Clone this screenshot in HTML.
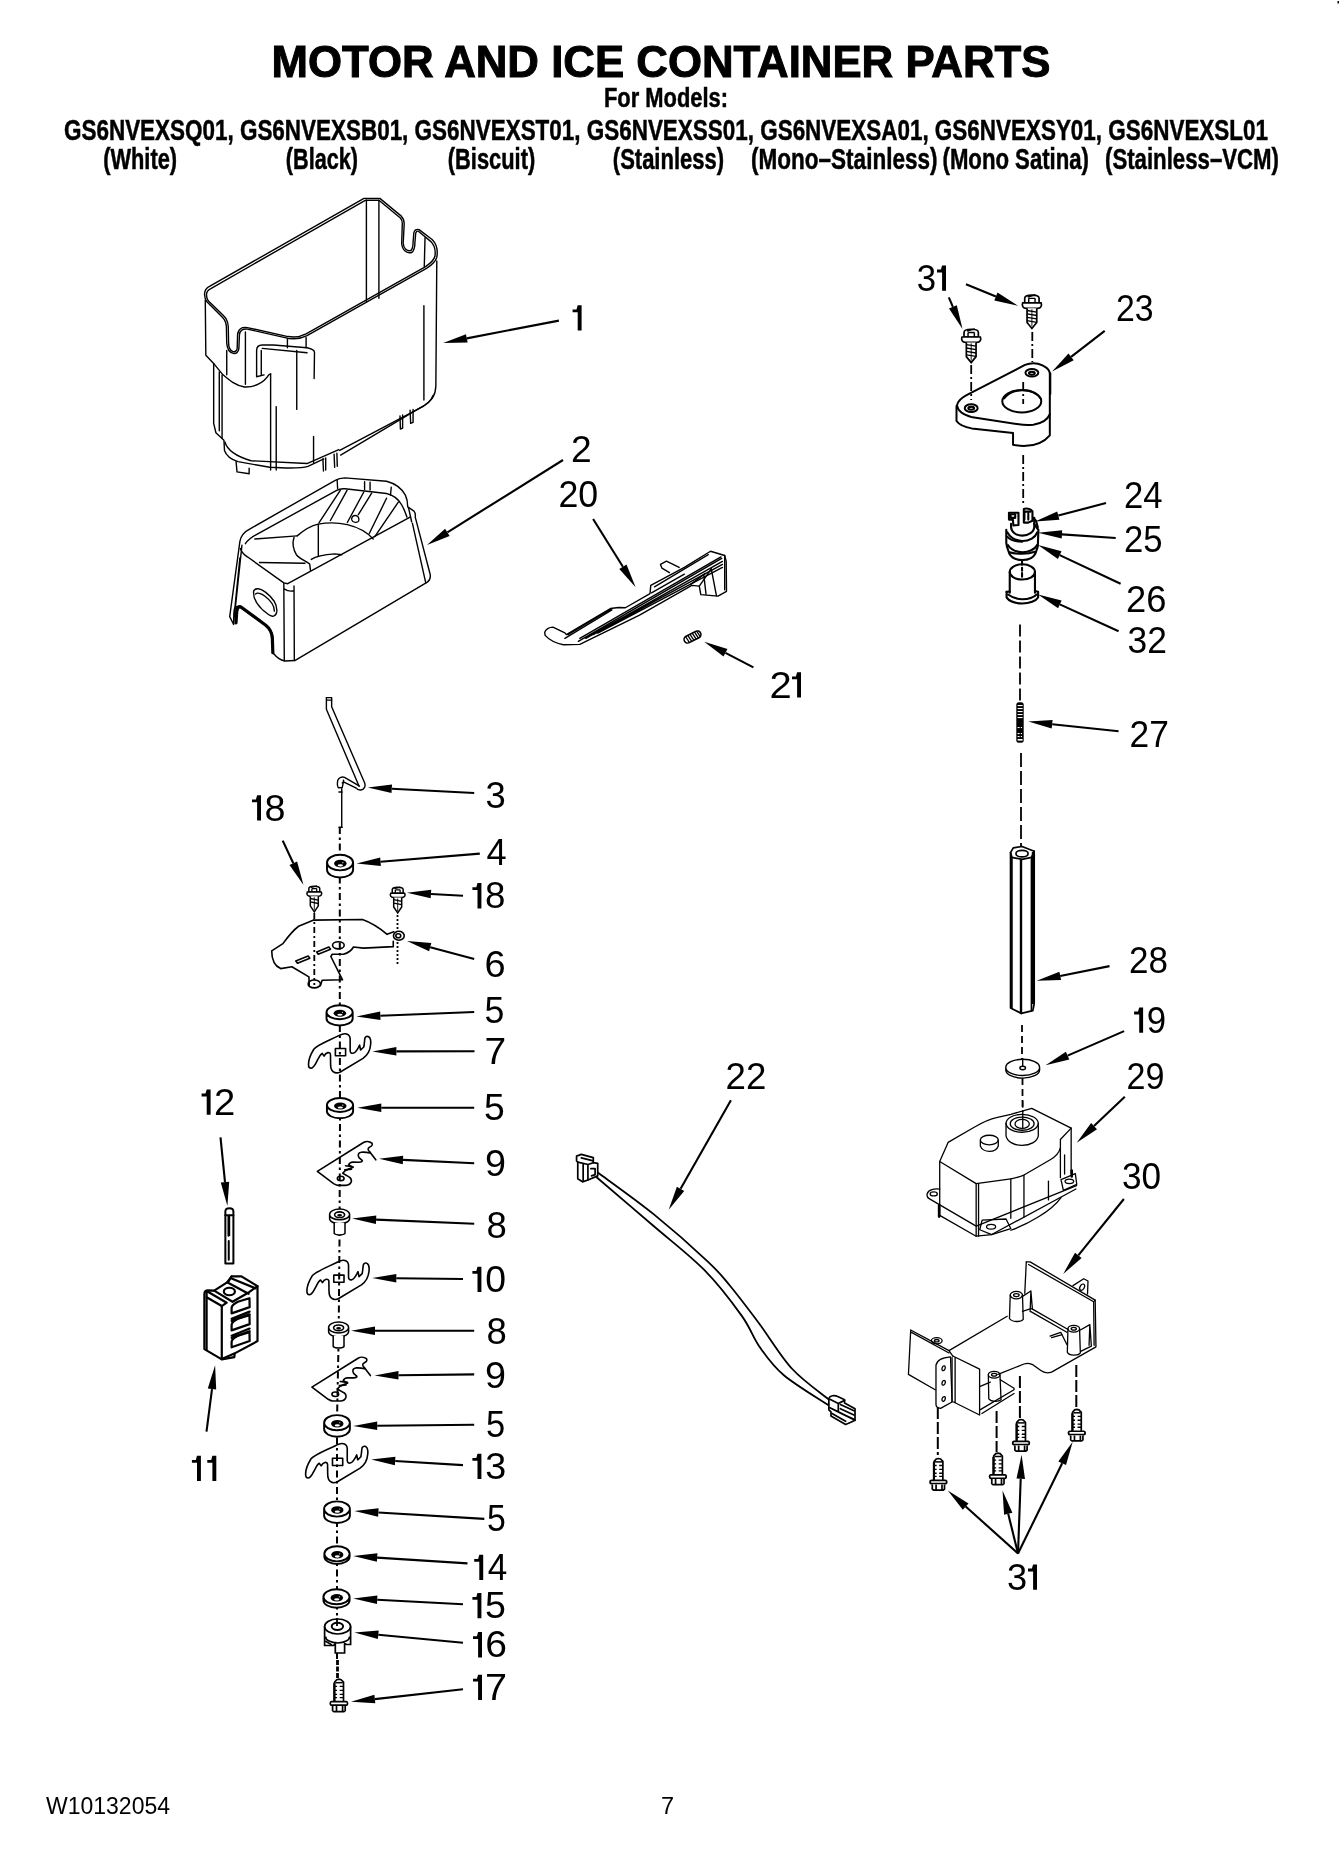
<!DOCTYPE html>
<html><head><meta charset="utf-8"><style>
html,body{margin:0;padding:0;background:#fff;}
body{width:1339px;height:1849px;overflow:hidden;}
svg{display:block;will-change:transform;}
text{font-family:"Liberation Sans",sans-serif;fill:#000;}
</style></head><body>
<svg width="1339" height="1849" viewBox="0 0 1339 1849">
<text x="271.5" y="77.0" font-size="44.5" font-weight="bold" text-anchor="start" textLength="779" lengthAdjust="spacingAndGlyphs" stroke="#000" stroke-width="1.0">MOTOR AND ICE CONTAINER PARTS</text>
<text x="604" y="107" font-size="27" font-weight="bold" text-anchor="start" textLength="124" lengthAdjust="spacingAndGlyphs" stroke="#000" stroke-width="0.5">For Models:</text>
<text x="64" y="139.5" font-size="29" font-weight="bold" text-anchor="start" textLength="1204" lengthAdjust="spacingAndGlyphs" stroke="#000" stroke-width="0.5">GS6NVEXSQ01, GS6NVEXSB01, GS6NVEXST01, GS6NVEXSS01, GS6NVEXSA01, GS6NVEXSY01, GS6NVEXSL01</text>
<text x="103.2" y="168.6" font-size="29" font-weight="bold" text-anchor="start" textLength="73.9" lengthAdjust="spacingAndGlyphs" stroke="#000" stroke-width="0.5">(White)</text>
<text x="285.8" y="168.6" font-size="29" font-weight="bold" text-anchor="start" textLength="72.3" lengthAdjust="spacingAndGlyphs" stroke="#000" stroke-width="0.5">(Black)</text>
<text x="447.8" y="168.6" font-size="29" font-weight="bold" text-anchor="start" textLength="87.4" lengthAdjust="spacingAndGlyphs" stroke="#000" stroke-width="0.5">(Biscuit)</text>
<text x="612.8" y="168.6" font-size="29" font-weight="bold" text-anchor="start" textLength="111.3" lengthAdjust="spacingAndGlyphs" stroke="#000" stroke-width="0.5">(Stainless)</text>
<text x="751" y="168.6" font-size="29" font-weight="bold" text-anchor="start" textLength="186.5" lengthAdjust="spacingAndGlyphs" stroke="#000" stroke-width="0.5">(Mono&#8211;Stainless)</text>
<text x="942.5" y="168.6" font-size="29" font-weight="bold" text-anchor="start" textLength="146.5" lengthAdjust="spacingAndGlyphs" stroke="#000" stroke-width="0.5">(Mono Satina)</text>
<text x="1105" y="168.6" font-size="29" font-weight="bold" text-anchor="start" textLength="174" lengthAdjust="spacingAndGlyphs" stroke="#000" stroke-width="0.5">(Stainless&#8211;VCM)</text>
<text x="46" y="1814.4" font-size="23.5" font-weight="normal" text-anchor="start" textLength="124" lengthAdjust="spacingAndGlyphs">W10132054</text>
<text x="661" y="1814.4" font-size="23.5" font-weight="normal" text-anchor="start">7</text>
<path d="M577.70,305.30 L581.60,305.30 L581.60,330.60 L577.70,330.60 L577.70,312.20 L572.60,312.20 L572.60,309.40 L576.50,309.40 Z" fill="#000"/>
<text x="571.0" y="461.5" font-size="36.5" font-weight="normal" text-anchor="start" textLength="20.69" lengthAdjust="spacingAndGlyphs">2</text>
<text x="558.5" y="507.0" font-size="36.5" font-weight="normal" text-anchor="start" textLength="39.75" lengthAdjust="spacingAndGlyphs">20</text>
<text x="769.43" y="697.6" font-size="36.5" font-weight="normal" text-anchor="start" textLength="22.24" lengthAdjust="spacingAndGlyphs">2</text>
<path d="M797.10,672.30 L801.00,672.30 L801.00,697.60 L797.10,697.60 L797.10,679.20 L792.00,679.20 L792.00,676.40 L795.90,676.40 Z" fill="#000"/>
<text x="485.5" y="807.5" font-size="36.5" font-weight="normal" text-anchor="start" textLength="20.28" lengthAdjust="spacingAndGlyphs">3</text>
<path d="M257.10,795.30 L261.00,795.30 L261.00,820.60 L257.10,820.60 L257.10,802.20 L252.00,802.20 L252.00,799.40 L255.90,799.40 Z" fill="#000"/>
<text x="264.54" y="820.6" font-size="36.5" font-weight="normal" text-anchor="start" textLength="21.01" lengthAdjust="spacingAndGlyphs">8</text>
<text x="486.5" y="865.0" font-size="36.5" font-weight="normal" text-anchor="start" textLength="20.14" lengthAdjust="spacingAndGlyphs">4</text>
<path d="M477.50,883.10 L481.40,883.10 L481.40,908.40 L477.50,908.40 L477.50,890.00 L472.40,890.00 L472.40,887.20 L476.30,887.20 Z" fill="#000"/>
<text x="484.99" y="908.4" font-size="36.5" font-weight="normal" text-anchor="start" textLength="20.42" lengthAdjust="spacingAndGlyphs">8</text>
<text x="484.5" y="976.5" font-size="36.5" font-weight="normal" text-anchor="start" textLength="21.1" lengthAdjust="spacingAndGlyphs">6</text>
<text x="484.5" y="1023.0" font-size="36.5" font-weight="normal" text-anchor="start" textLength="19.86" lengthAdjust="spacingAndGlyphs">5</text>
<text x="484.5" y="1063.5" font-size="36.5" font-weight="normal" text-anchor="start" textLength="21.69" lengthAdjust="spacingAndGlyphs">7</text>
<text x="484.0" y="1120.0" font-size="36.5" font-weight="normal" text-anchor="start" textLength="20.74" lengthAdjust="spacingAndGlyphs">5</text>
<text x="485.0" y="1176.0" font-size="36.5" font-weight="normal" text-anchor="start" textLength="20.97" lengthAdjust="spacingAndGlyphs">9</text>
<text x="486.5" y="1237.5" font-size="36.5" font-weight="normal" text-anchor="start" textLength="20.32" lengthAdjust="spacingAndGlyphs">8</text>
<path d="M477.50,1266.80 L481.40,1266.80 L481.40,1292.10 L477.50,1292.10 L477.50,1273.70 L472.40,1273.70 L472.40,1270.90 L476.30,1270.90 Z" fill="#000"/>
<text x="485.17" y="1292.1" font-size="36.5" font-weight="normal" text-anchor="start" textLength="20.76" lengthAdjust="spacingAndGlyphs">0</text>
<text x="486.5" y="1344.0" font-size="36.5" font-weight="normal" text-anchor="start" textLength="20.32" lengthAdjust="spacingAndGlyphs">8</text>
<text x="485.0" y="1388.0" font-size="36.5" font-weight="normal" text-anchor="start" textLength="20.97" lengthAdjust="spacingAndGlyphs">9</text>
<text x="486.0" y="1437.0" font-size="36.5" font-weight="normal" text-anchor="start" textLength="19.19" lengthAdjust="spacingAndGlyphs">5</text>
<path d="M477.50,1453.80 L481.40,1453.80 L481.40,1479.10 L477.50,1479.10 L477.50,1460.70 L472.40,1460.70 L472.40,1457.90 L476.30,1457.90 Z" fill="#000"/>
<text x="485.15" y="1479.1" font-size="36.5" font-weight="normal" text-anchor="start" textLength="21.0" lengthAdjust="spacingAndGlyphs">3</text>
<text x="487.0" y="1531.0" font-size="36.5" font-weight="normal" text-anchor="start" textLength="18.83" lengthAdjust="spacingAndGlyphs">5</text>
<path d="M479.30,1554.80 L483.20,1554.80 L483.20,1580.10 L479.30,1580.10 L479.30,1561.70 L474.20,1561.70 L474.20,1558.90 L478.10,1558.90 Z" fill="#000"/>
<text x="487.63" y="1580.1" font-size="36.5" font-weight="normal" text-anchor="start" textLength="19.53" lengthAdjust="spacingAndGlyphs">4</text>
<path d="M477.50,1592.90 L481.40,1592.90 L481.40,1618.20 L477.50,1618.20 L477.50,1599.80 L472.40,1599.80 L472.40,1597.00 L476.30,1597.00 Z" fill="#000"/>
<text x="485.06" y="1618.2" font-size="36.5" font-weight="normal" text-anchor="start" textLength="20.89" lengthAdjust="spacingAndGlyphs">5</text>
<path d="M478.10,1632.10 L482.00,1632.10 L482.00,1657.40 L478.10,1657.40 L478.10,1639.00 L473.00,1639.00 L473.00,1636.20 L476.90,1636.20 Z" fill="#000"/>
<text x="485.16" y="1657.4" font-size="36.5" font-weight="normal" text-anchor="start" textLength="21.75" lengthAdjust="spacingAndGlyphs">6</text>
<path d="M478.10,1674.70 L482.00,1674.70 L482.00,1700.00 L478.10,1700.00 L478.10,1681.60 L473.00,1681.60 L473.00,1678.80 L476.90,1678.80 Z" fill="#000"/>
<text x="485.14" y="1700.0" font-size="36.5" font-weight="normal" text-anchor="start" textLength="22.01" lengthAdjust="spacingAndGlyphs">7</text>
<path d="M206.70,1089.50 L210.60,1089.50 L210.60,1114.80 L206.70,1114.80 L206.70,1096.40 L201.60,1096.40 L201.60,1093.60 L205.50,1093.60 Z" fill="#000"/>
<text x="213.91" y="1114.8" font-size="36.5" font-weight="normal" text-anchor="start" textLength="21.27" lengthAdjust="spacingAndGlyphs">2</text>
<path d="M197.00,1455.80 L200.90,1455.80 L200.90,1481.10 L197.00,1481.10 L197.00,1462.70 L191.90,1462.70 L191.90,1459.90 L195.80,1459.90 Z" fill="#000"/>
<path d="M212.40,1455.80 L216.30,1455.80 L216.30,1481.10 L212.40,1481.10 L212.40,1462.70 L207.30,1462.70 L207.30,1459.90 L211.20,1459.90 Z" fill="#000"/>
<text x="725.5" y="1089.0" font-size="36.5" font-weight="normal" text-anchor="start" textLength="40.79" lengthAdjust="spacingAndGlyphs">22</text>
<text x="916.86" y="290.8" font-size="36.5" font-weight="normal" text-anchor="start" textLength="19.36" lengthAdjust="spacingAndGlyphs">3</text>
<path d="M942.10,265.50 L946.00,265.50 L946.00,290.80 L942.10,290.80 L942.10,272.40 L937.00,272.40 L937.00,269.60 L940.90,269.60 Z" fill="#000"/>
<text x="1116.0" y="320.5" font-size="36.5" font-weight="normal" text-anchor="start" textLength="37.61" lengthAdjust="spacingAndGlyphs">23</text>
<text x="1124.0" y="508.0" font-size="36.5" font-weight="normal" text-anchor="start" textLength="38.56" lengthAdjust="spacingAndGlyphs">24</text>
<text x="1124.0" y="551.5" font-size="36.5" font-weight="normal" text-anchor="start" textLength="38.56" lengthAdjust="spacingAndGlyphs">25</text>
<text x="1126.0" y="611.5" font-size="36.5" font-weight="normal" text-anchor="start" textLength="40.4" lengthAdjust="spacingAndGlyphs">26</text>
<text x="1127.5" y="653.0" font-size="36.5" font-weight="normal" text-anchor="start" textLength="39.37" lengthAdjust="spacingAndGlyphs">32</text>
<text x="1129.5" y="747.0" font-size="36.5" font-weight="normal" text-anchor="start" textLength="39.33" lengthAdjust="spacingAndGlyphs">27</text>
<text x="1129.0" y="972.5" font-size="36.5" font-weight="normal" text-anchor="start" textLength="39.0" lengthAdjust="spacingAndGlyphs">28</text>
<path d="M1139.20,1007.50 L1143.10,1007.50 L1143.10,1032.80 L1139.20,1032.80 L1139.20,1014.40 L1134.10,1014.40 L1134.10,1011.60 L1138.00,1011.60 Z" fill="#000"/>
<text x="1146.68" y="1032.8" font-size="36.5" font-weight="normal" text-anchor="start" textLength="19.34" lengthAdjust="spacingAndGlyphs">9</text>
<text x="1126.5" y="1089.0" font-size="36.5" font-weight="normal" text-anchor="start" textLength="37.9" lengthAdjust="spacingAndGlyphs">29</text>
<text x="1122.0" y="1188.5" font-size="36.5" font-weight="normal" text-anchor="start" textLength="39.1" lengthAdjust="spacingAndGlyphs">30</text>
<text x="1007.11" y="1589.8" font-size="36.5" font-weight="normal" text-anchor="start" textLength="20.18" lengthAdjust="spacingAndGlyphs">3</text>
<path d="M1033.10,1564.50 L1037.00,1564.50 L1037.00,1589.80 L1033.10,1589.80 L1033.10,1571.40 L1028.00,1571.40 L1028.00,1568.60 L1031.90,1568.60 Z" fill="#000"/>
<line x1="558.9" y1="320.6" x2="466.8" y2="338.4" stroke="#000" stroke-width="2.1"/>
<path d="M443.2,343.0 L466.0,334.3 L467.6,342.6Z" fill="#000"/>
<line x1="563.0" y1="460.0" x2="447.4" y2="532.3" stroke="#000" stroke-width="2.1"/>
<path d="M427.0,545.0 L445.1,528.7 L449.6,535.9Z" fill="#000"/>
<line x1="593.1" y1="519.0" x2="622.9" y2="566.8" stroke="#000" stroke-width="2.1"/>
<path d="M635.6,587.2 L619.3,569.1 L626.5,564.6Z" fill="#000"/>
<line x1="753.4" y1="667.4" x2="725.5" y2="652.9" stroke="#000" stroke-width="2.1"/>
<path d="M704.2,641.8 L727.5,649.1 L723.5,656.6Z" fill="#000"/>
<line x1="474.2" y1="793.0" x2="391.8" y2="788.7" stroke="#000" stroke-width="2.1"/>
<path d="M367.8,787.5 L392.0,784.5 L391.5,793.0Z" fill="#000"/>
<line x1="282.7" y1="840.6" x2="293.3" y2="863.2" stroke="#000" stroke-width="2.1"/>
<path d="M303.5,884.9 L289.5,865.0 L297.1,861.4Z" fill="#000"/>
<line x1="479.8" y1="853.6" x2="380.5" y2="861.7" stroke="#000" stroke-width="2.1"/>
<path d="M356.6,863.6 L380.2,857.4 L380.9,865.9Z" fill="#000"/>
<line x1="463.0" y1="895.7" x2="431.0" y2="894.0" stroke="#000" stroke-width="2.1"/>
<path d="M407.0,892.8 L431.2,889.8 L430.7,898.3Z" fill="#000"/>
<line x1="474.2" y1="958.9" x2="430.2" y2="947.2" stroke="#000" stroke-width="2.1"/>
<path d="M407.0,941.0 L431.3,943.1 L429.1,951.3Z" fill="#000"/>
<line x1="474.2" y1="1012.0" x2="380.4" y2="1015.7" stroke="#000" stroke-width="2.1"/>
<path d="M356.4,1016.6 L380.2,1011.4 L380.5,1019.9Z" fill="#000"/>
<line x1="474.5" y1="1051.3" x2="396.4" y2="1051.4" stroke="#000" stroke-width="2.1"/>
<path d="M372.4,1051.4 L396.4,1047.1 L396.4,1055.6Z" fill="#000"/>
<line x1="474.2" y1="1107.7" x2="381.3" y2="1107.7" stroke="#000" stroke-width="2.1"/>
<path d="M357.3,1107.7 L381.3,1103.5 L381.3,1112.0Z" fill="#000"/>
<line x1="474.2" y1="1163.3" x2="403.0" y2="1159.9" stroke="#000" stroke-width="2.1"/>
<path d="M379.0,1158.8 L403.2,1155.7 L402.8,1164.2Z" fill="#000"/>
<line x1="474.2" y1="1223.8" x2="376.1" y2="1219.6" stroke="#000" stroke-width="2.1"/>
<path d="M352.1,1218.6 L376.3,1215.4 L375.9,1223.9Z" fill="#000"/>
<line x1="463.0" y1="1279.0" x2="396.3" y2="1278.3" stroke="#000" stroke-width="2.1"/>
<path d="M372.3,1278.0 L396.3,1274.0 L396.3,1282.5Z" fill="#000"/>
<line x1="474.2" y1="1330.7" x2="375.0" y2="1330.7" stroke="#000" stroke-width="2.1"/>
<path d="M351.0,1330.7 L375.0,1326.5 L375.0,1335.0Z" fill="#000"/>
<line x1="474.2" y1="1374.4" x2="398.5" y2="1375.2" stroke="#000" stroke-width="2.1"/>
<path d="M374.5,1375.5 L398.5,1371.0 L398.5,1379.5Z" fill="#000"/>
<line x1="474.2" y1="1424.8" x2="377.2" y2="1425.7" stroke="#000" stroke-width="2.1"/>
<path d="M353.2,1425.9 L377.2,1421.4 L377.2,1429.9Z" fill="#000"/>
<line x1="463.0" y1="1465.1" x2="395.2" y2="1461.0" stroke="#000" stroke-width="2.1"/>
<path d="M371.2,1459.5 L395.4,1456.7 L394.9,1465.2Z" fill="#000"/>
<line x1="484.3" y1="1518.9" x2="378.4" y2="1512.5" stroke="#000" stroke-width="2.1"/>
<path d="M354.4,1511.0 L378.6,1508.2 L378.1,1516.7Z" fill="#000"/>
<line x1="467.5" y1="1563.4" x2="377.1" y2="1557.6" stroke="#000" stroke-width="2.1"/>
<path d="M353.2,1556.0 L377.4,1553.3 L376.9,1561.8Z" fill="#000"/>
<line x1="463.0" y1="1604.2" x2="377.2" y2="1599.8" stroke="#000" stroke-width="2.1"/>
<path d="M353.2,1598.6 L377.4,1595.6 L377.0,1604.1Z" fill="#000"/>
<line x1="463.0" y1="1642.7" x2="378.3" y2="1634.8" stroke="#000" stroke-width="2.1"/>
<path d="M354.4,1632.6 L378.7,1630.6 L377.9,1639.1Z" fill="#000"/>
<line x1="463.0" y1="1689.3" x2="374.9" y2="1699.1" stroke="#000" stroke-width="2.1"/>
<path d="M351.0,1701.7 L374.4,1694.8 L375.3,1703.3Z" fill="#000"/>
<line x1="220.5" y1="1137.4" x2="225.0" y2="1182.1" stroke="#000" stroke-width="2.1"/>
<path d="M227.4,1206.0 L220.8,1182.5 L229.2,1181.7Z" fill="#000"/>
<line x1="206.5" y1="1431.6" x2="212.0" y2="1389.1" stroke="#000" stroke-width="2.1"/>
<path d="M215.1,1365.3 L216.2,1389.6 L207.8,1388.6Z" fill="#000"/>
<line x1="730.9" y1="1100.2" x2="680.6" y2="1188.8" stroke="#000" stroke-width="2.1"/>
<path d="M668.7,1209.7 L676.9,1186.7 L684.2,1190.9Z" fill="#000"/>
<line x1="948.8" y1="297.4" x2="952.9" y2="306.9" stroke="#000" stroke-width="2.1"/>
<path d="M962.5,328.9 L949.0,308.6 L956.8,305.2Z" fill="#000"/>
<line x1="966.0" y1="284.2" x2="995.9" y2="296.5" stroke="#000" stroke-width="2.1"/>
<path d="M1018.1,305.7 L994.3,300.5 L997.5,292.6Z" fill="#000"/>
<line x1="1104.7" y1="330.8" x2="1071.1" y2="356.8" stroke="#000" stroke-width="2.1"/>
<path d="M1052.1,371.5 L1068.5,353.5 L1073.7,360.2Z" fill="#000"/>
<line x1="1106.0" y1="503.1" x2="1058.3" y2="515.5" stroke="#000" stroke-width="2.1"/>
<path d="M1035.1,521.6 L1057.2,511.4 L1059.4,519.7Z" fill="#000"/>
<line x1="1115.7" y1="538.0" x2="1061.9" y2="534.4" stroke="#000" stroke-width="2.1"/>
<path d="M1038.0,532.8 L1062.2,530.2 L1061.7,538.6Z" fill="#000"/>
<line x1="1120.6" y1="583.7" x2="1059.7" y2="555.1" stroke="#000" stroke-width="2.1"/>
<path d="M1038.0,544.9 L1061.5,551.3 L1057.9,559.0Z" fill="#000"/>
<line x1="1118.6" y1="631.3" x2="1059.8" y2="604.4" stroke="#000" stroke-width="2.1"/>
<path d="M1038.0,594.4 L1061.6,600.5 L1058.1,608.3Z" fill="#000"/>
<line x1="1118.6" y1="731.3" x2="1052.2" y2="724.2" stroke="#000" stroke-width="2.1"/>
<path d="M1028.3,721.6 L1052.6,719.9 L1051.7,728.4Z" fill="#000"/>
<line x1="1109.5" y1="966.1" x2="1060.2" y2="976.0" stroke="#000" stroke-width="2.1"/>
<path d="M1036.7,980.7 L1059.4,971.8 L1061.1,980.1Z" fill="#000"/>
<line x1="1124.1" y1="1031.1" x2="1067.6" y2="1055.6" stroke="#000" stroke-width="2.1"/>
<path d="M1045.6,1065.2 L1065.9,1051.7 L1069.3,1059.5Z" fill="#000"/>
<line x1="1124.8" y1="1096.7" x2="1094.0" y2="1126.1" stroke="#000" stroke-width="2.1"/>
<path d="M1076.7,1142.7 L1091.1,1123.0 L1097.0,1129.2Z" fill="#000"/>
<line x1="1123.9" y1="1199.0" x2="1078.3" y2="1255.3" stroke="#000" stroke-width="2.1"/>
<path d="M1063.2,1274.0 L1075.0,1252.7 L1081.6,1258.0Z" fill="#000"/>
<line x1="1018.0" y1="1553.5" x2="965.7" y2="1506.5" stroke="#000" stroke-width="2.1"/>
<path d="M947.8,1490.5 L968.5,1503.4 L962.8,1509.7Z" fill="#000"/>
<line x1="1018.0" y1="1553.5" x2="1008.2" y2="1513.8" stroke="#000" stroke-width="2.1"/>
<path d="M1002.5,1490.5 L1012.4,1512.8 L1004.1,1514.8Z" fill="#000"/>
<line x1="1018.0" y1="1553.5" x2="1020.7" y2="1478.8" stroke="#000" stroke-width="2.1"/>
<path d="M1021.6,1454.8 L1025.0,1478.9 L1016.5,1478.6Z" fill="#000"/>
<line x1="1018.0" y1="1553.5" x2="1062.2" y2="1463.3" stroke="#000" stroke-width="2.1"/>
<path d="M1072.7,1441.7 L1066.0,1465.1 L1058.3,1461.4Z" fill="#000"/>
<g transform="translate(195,190) scale(0.18671)" fill="none" stroke="#000" stroke-width="1.4" stroke-linejoin="round" stroke-linecap="round">
<path d="M52,565 C48,540 60,525 80,515 L905,45 L990,45 L1105,140 C1120,155 1122,170 1120,190 L1115,285 C1118,315 1135,328 1155,325 C1165,318 1168,300 1168,280 L1172,230 C1175,215 1185,208 1200,212 L1270,265 C1295,290 1302,320 1295,360 C1290,380 1270,400 1240,420 L600,780 C580,790 560,797 530,797 L500,795 L280,745 C255,742 240,752 238,775 L235,850 C232,870 220,878 205,875 C185,870 172,850 170,820 L168,730 C165,700 155,690 140,675 L65,600 C55,590 52,580 52,565 Z" vector-effect="non-scaling-stroke"/>
<path d="M62,565 C60,548 70,535 85,528 L912,55 L985,55 L1100,150 C1110,160 1112,172 1110,190 L1107,285 C1110,325 1135,340 1160,335 C1175,325 1178,300 1178,280 L1182,232 C1185,222 1190,218 1198,222 L1262,275 C1285,298 1290,322 1285,355 C1280,375 1265,390 1235,410 L595,770 C575,780 555,787 528,787 L498,785 L280,737 C250,732 230,745 228,775 L226,848 C224,862 215,868 205,866 C190,862 180,845 180,820 L178,730 C175,695 163,683 148,668 L72,595 C64,586 62,578 62,565 Z" vector-effect="non-scaling-stroke"/>
<path d="M918,55 L918,600" vector-effect="non-scaling-stroke"/>
<path d="M985,55 L985,580" vector-effect="non-scaling-stroke"/>
<path d="M1232,255 L1228,410 M1226,620 L1226,1125" vector-effect="non-scaling-stroke"/>
<path d="M1295,380 L1290,1050 C1288,1100 1270,1130 1220,1160 L775,1395" vector-effect="non-scaling-stroke"/>
<path d="M1275,1100 C1265,1130 1240,1150 1200,1170 L780,1420" vector-effect="non-scaling-stroke"/>
<path d="M55,590 L58,885 L105,935 L150,990 C185,1020 215,1045 265,1055 C320,1058 370,1030 395,990 L405,985" vector-effect="non-scaling-stroke"/>
<path d="M100,930 L100,1250 L112,1300 L155,1340 L158,1395 C170,1430 200,1445 230,1455 L400,1485 C480,1490 560,1495 605,1480 L690,1440" vector-effect="non-scaling-stroke"/>
<path d="M130,975 L130,1290 M145,990 L145,1330" vector-effect="non-scaling-stroke"/>
<path d="M170,860 L170,990 M270,760 L270,1040" vector-effect="non-scaling-stroke"/>
<path d="M330,860 C330,840 340,830 360,830 L420,830 L600,845 C625,850 640,860 640,870 L638,1010 M330,860 L330,1000 L370,990" vector-effect="non-scaling-stroke"/>
<path d="M355,860 L355,990 M360,848 L600,872" vector-effect="non-scaling-stroke"/>
<path d="M405,985 L405,1500 M435,1160 L435,1500" vector-effect="non-scaling-stroke"/>
<path d="M545,860 L545,1175 M635,1320 L635,1460" vector-effect="non-scaling-stroke"/>
<path d="M495,795 L495,845 M595,790 L595,845" vector-effect="non-scaling-stroke"/>
<path d="M160,1350 C175,1400 230,1430 300,1450 L600,1465 L770,1390" vector-effect="non-scaling-stroke"/>
<path d="M220,1455 L225,1510 L290,1520 M290,1490 L290,1515" vector-effect="non-scaling-stroke"/>
<path d="M685,1440 L688,1505 M700,1435 L700,1500 M745,1415 L748,1485 M760,1410 L762,1480" vector-effect="non-scaling-stroke"/>
<path d="M1098,1210 L1100,1280 L1112,1275 L1112,1205 M1152,1180 L1155,1250 L1168,1245 L1168,1175" vector-effect="non-scaling-stroke"/>
</g>
<g transform="translate(225,470) scale(0.15684)" fill="none" stroke="#000" stroke-width="1.4" stroke-linejoin="round" stroke-linecap="round">
<path d="M95,455 C100,420 120,395 165,372 L700,68 C720,55 740,50 765,50 L1030,72 C1080,85 1125,115 1150,160 C1162,185 1165,210 1165,235 L1205,262 C1212,270 1215,285 1213,300 L1308,665 C1312,690 1305,705 1290,715 L445,1215 L380,1218 C355,1212 330,1195 308,1168 L305,1060 C300,1030 285,1010 265,995 L90,872 C70,865 58,880 58,900 L55,985 L30,935 Z" vector-effect="non-scaling-stroke"/>
<path d="M130,470 C150,440 175,425 200,412 L712,130 C730,120 745,118 765,120 L1030,150 C1070,160 1105,185 1125,220 C1140,245 1150,270 1160,300" vector-effect="non-scaling-stroke"/>
<path d="M98,500 C105,520 120,540 145,555 L375,720 L400,725 L1180,300" vector-effect="non-scaling-stroke"/>
<path d="M375,722 L378,1215 M440,740 L442,1215 M380,760 C395,770 420,775 440,770" vector-effect="non-scaling-stroke"/>
<path d="M108,480 L60,935 M95,560 L55,960" vector-effect="non-scaling-stroke"/>
<path d="M1195,340 L1280,720 M1170,240 L1190,330" vector-effect="non-scaling-stroke"/>
<path d="M460,420 C500,385 550,355 595,345 C650,335 720,335 780,348 C850,365 910,400 945,440" vector-effect="non-scaling-stroke"/>
<path d="M440,430 C430,460 432,500 455,540 C480,570 520,580 540,600 L545,640" vector-effect="non-scaling-stroke"/>
<path d="M550,570 C580,550 630,540 700,535 L745,540" vector-effect="non-scaling-stroke"/>
<path d="M595,345 L595,545" vector-effect="non-scaling-stroke"/>
<path d="M220,590 L510,595 M190,440 L460,420" vector-effect="non-scaling-stroke"/>
<path d="M600,335 L735,130 M672,322 L778,130 M780,335 L885,140 M850,285 L935,148 M920,405 L1030,180 M955,425 L1105,205" vector-effect="non-scaling-stroke"/>
<path d="M808,318 C805,300 818,288 833,290 C850,292 858,310 852,325 C845,338 815,338 808,318 Z" vector-effect="non-scaling-stroke"/>
<path d="M183,770 C195,750 225,752 260,780 C305,815 335,860 330,905 C325,935 300,940 275,920 C220,880 175,830 183,770 Z" vector-effect="non-scaling-stroke"/>
<path d="M195,790 C205,780 230,785 255,805 C295,835 315,870 315,900" vector-effect="non-scaling-stroke"/>
<path d="M890,75 L890,125 M925,78 L925,128 M1060,110 L1055,160 M715,62 L718,118" vector-effect="non-scaling-stroke"/>
</g>
<g transform="translate(225,470) scale(0.15684)" fill="none" stroke="#000" stroke-width="3.2" stroke-linejoin="round" stroke-linecap="round">
<path d="M70,975 L75,900 C78,880 85,870 100,872 L260,990 C285,1010 300,1040 302,1075 L305,1165" vector-effect="non-scaling-stroke"/>
</g>
<g transform="translate(535,545) scale(0.14937)" fill="none" stroke="#000" stroke-width="1.4" stroke-linejoin="round" stroke-linecap="round">
<path d="M65,585 C70,565 95,550 120,550 L200,588 L210,600 L505,425 L560,418 L605,420 L770,325 L775,270 L1000,150 L1175,42 L1270,70 L1280,110 L1282,310 L1225,342 L1110,332 L1100,275 L1050,270 L700,470 L300,665 L190,668 C130,655 90,630 68,605 Z" vector-effect="non-scaling-stroke"/>
<path d="M200,625 L515,435 M220,600 L510,428" vector-effect="non-scaling-stroke"/>
<path d="M290,645 L1250,90 M300,625 L1245,80 M340,625 L1255,110 M390,600 L1255,130 M420,590 L1255,150" vector-effect="non-scaling-stroke"/>
<path d="M780,320 L1000,195 M800,280 L1160,65" vector-effect="non-scaling-stroke"/>
<path d="M840,130 L880,108 L965,150 M840,130 L850,155 L900,185" vector-effect="non-scaling-stroke"/>
<path d="M1180,160 L1215,340 M1130,200 L1145,330 M1270,70 L1270,300" vector-effect="non-scaling-stroke"/>
<path d="M1100,275 L1180,160 M1040,265 L1140,190" vector-effect="non-scaling-stroke"/>
</g>
<g transform="translate(692.5,637) rotate(-27)"><rect x="-9" y="-3.6" width="18" height="7.2" rx="3.6" fill="#fff" stroke="#000" stroke-width="1.6"/><line x1="-6" y1="-3.6" x2="-5.2" y2="3.6" stroke="#000" stroke-width="1.3"/><line x1="-3.5" y1="-3.6" x2="-2.7" y2="3.6" stroke="#000" stroke-width="1.3"/><line x1="-1" y1="-3.6" x2="-0.19999999999999996" y2="3.6" stroke="#000" stroke-width="1.3"/><line x1="1.5" y1="-3.6" x2="2.3" y2="3.6" stroke="#000" stroke-width="1.3"/><line x1="4" y1="-3.6" x2="4.8" y2="3.6" stroke="#000" stroke-width="1.3"/><line x1="6.3" y1="-3.6" x2="7.1" y2="3.6" stroke="#000" stroke-width="1.3"/></g>
<g transform="translate(265,690) scale(0.11202)" fill="none" stroke="#000" stroke-width="1.4" stroke-linejoin="round" stroke-linecap="round">
<path d="M548,68 L595,68 L595,150 L890,830 C900,860 885,890 855,893 C835,895 820,885 815,875 L700,820 L690,870 L655,872 C645,860 645,830 650,805 C660,780 690,770 710,780 L840,855" vector-effect="non-scaling-stroke"/>
<path d="M548,68 L548,172 L840,860" vector-effect="non-scaling-stroke"/>
<path d="M550,90 L595,90 M690,830 C700,825 705,815 700,805" vector-effect="non-scaling-stroke"/>
<path d="M685,880 L685,1225 M660,910 L690,910 M660,1225 L690,1225" vector-effect="non-scaling-stroke"/>
</g>
<g transform="translate(265,840) scale(0.11202)" fill="none" stroke="#000" stroke-width="1.6" stroke-linejoin="round" stroke-linecap="round">
<path d="M435,715 L870,710 C940,735 1010,775 1090,842 L1150,820" vector-effect="non-scaling-stroke"/>
<path d="M1145,905 L1145,952 L880,965 L790,955 C770,990 740,1010 700,1020 L600,1020 L588,1040 L692,1248 L510,1252 L495,1300 M395,1300 L392,1222 L240,1132 L140,1148 C90,1125 60,1080 60,990 L160,925 C200,870 240,815 300,770 L435,715" vector-effect="non-scaling-stroke"/>
<ellipse cx="1195" cy="855" rx="48" ry="40" vector-effect="non-scaling-stroke"/>
<ellipse cx="1190" cy="855" rx="22" ry="18" vector-effect="non-scaling-stroke"/>
<ellipse cx="655" cy="940" rx="52" ry="32" vector-effect="non-scaling-stroke"/>
<ellipse cx="440" cy="1285" rx="55" ry="35" vector-effect="non-scaling-stroke"/>
<path d="M275,1080 L385,1035 L400,1055 L290,1100 Z" vector-effect="non-scaling-stroke"/>
<path d="M462,1000 L570,955 L585,975 L475,1020 Z" vector-effect="non-scaling-stroke"/>
</g>
<path d="M308.84000000000003,892.12 L308.84000000000003,888.5999999999999 C308.84000000000003,885.3 319.76,885.3 319.76,888.5999999999999 L319.76,892.12 Z" fill="#fff" stroke="#000" stroke-width="1.5"/>
<path d="M307.3,892.12 L321.3,892.12 C322.3,894.0999999999999 321.3,896.3 318.5,896.3 L310.1,896.3 C307.3,896.3 306.3,894.0999999999999 307.3,892.12 Z" fill="#fff" stroke="#000" stroke-width="1.5"/>
<path d="M311.8976,888.5999999999999 L311.8976,892.12 M316.7024,888.5999999999999 L316.7024,892.12 M311.8976,888.5999999999999 L316.7024,888.5999999999999 M311.024,887.5 L317.03000000000003,885.8499999999999" fill="none" stroke="#000" stroke-width="1.275"/>
<path d="M310.3,896.3 L310.3,905.8 L314.3,911.8 L318.3,905.8 L318.3,896.3" fill="#fff" stroke="#000" stroke-width="1.5"/>
<line x1="310.3" y1="898.5" x2="318.3" y2="900.1" stroke="#000" stroke-width="1.3"/>
<line x1="310.3" y1="901.9" x2="318.3" y2="903.5" stroke="#000" stroke-width="1.3"/>
<line x1="314.3" y1="897.3" x2="314.3" y2="909.8" stroke="#000" stroke-width="0.9"/>
<path d="M392.24,893.32 L392.24,889.8 C392.24,886.5 403.15999999999997,886.5 403.15999999999997,889.8 L403.15999999999997,893.32 Z" fill="#fff" stroke="#000" stroke-width="1.5"/>
<path d="M390.7,893.32 L404.7,893.32 C405.7,895.3 404.7,897.5 401.9,897.5 L393.5,897.5 C390.7,897.5 389.7,895.3 390.7,893.32 Z" fill="#fff" stroke="#000" stroke-width="1.5"/>
<path d="M395.2976,889.8 L395.2976,893.32 M400.1024,889.8 L400.1024,893.32 M395.2976,889.8 L400.1024,889.8 M394.424,888.7 L400.43,887.05" fill="none" stroke="#000" stroke-width="1.275"/>
<path d="M393.7,897.5 L393.7,907.0 L397.7,913.0 L401.7,907.0 L401.7,897.5" fill="#fff" stroke="#000" stroke-width="1.5"/>
<line x1="393.7" y1="899.7" x2="401.7" y2="901.3" stroke="#000" stroke-width="1.3"/>
<line x1="393.7" y1="903.1" x2="401.7" y2="904.7" stroke="#000" stroke-width="1.3"/>
<line x1="397.7" y1="898.5" x2="397.7" y2="911.0" stroke="#000" stroke-width="0.9"/>
<rect x="1337.5" y="1" width="1.5" height="2.5" fill="#000"/>
<path d="M339.8,827 L339.8,1000 L340,1120 L339.5,1240 L338.6,1340 L337,1420 L337,1660" fill="none" stroke="#000" stroke-width="2" stroke-dasharray="7 3.5 2.5 3.5"/>
<path d="M337.5,1660 L337.5,1678" fill="none" stroke="#000" stroke-width="2.8" stroke-dasharray="5 1.5"/>
<path d="M314.3,913 L314.3,985" fill="none" stroke="#000" stroke-width="1.8" stroke-dasharray="6 3 2 3"/>
<path d="M397.5,915 L397.5,930 M397.5,942 L397.5,966" fill="none" stroke="#000" stroke-width="1.8" stroke-dasharray="2 2"/>
<path d="M327.0,862.6 L327.0,869.7 A13.05,7.8 0 0 0 353.1,869.7 L353.1,862.6 A13.05,7.8 0 0 0 327.0,862.6 A13.05,7.8 0 0 0 353.1,862.6" fill="#fff" stroke="#000" stroke-width="1.9"/>
<ellipse cx="340.35" cy="863.6" rx="6.264" ry="3.9" fill="#000" stroke="none"/>
<ellipse cx="340.35" cy="865.355" rx="2.63088" ry="1.17" fill="#fff" stroke="none"/>
<circle cx="342.8688" cy="862.625" r="0.55" fill="#fff"/>
<path d="M326.5,1012.2 L326.5,1018.5 A13.1,7.0 0 0 0 352.70000000000005,1018.5 L352.70000000000005,1012.2 A13.1,7.0 0 0 0 326.5,1012.2 A13.1,7.0 0 0 0 352.70000000000005,1012.2" fill="#fff" stroke="#000" stroke-width="1.9"/>
<ellipse cx="339.90000000000003" cy="1013.2" rx="6.287999999999999" ry="3.5" fill="#000" stroke="none"/>
<ellipse cx="339.90000000000003" cy="1014.7750000000001" rx="2.6409599999999998" ry="1.05" fill="#fff" stroke="none"/>
<circle cx="342.42960000000005" cy="1012.325" r="0.55" fill="#fff"/>
<g transform="translate(297.91,990.2) scale(0.07570)" fill="none" stroke="#000" stroke-width="1.6" stroke-linejoin="round" stroke-linecap="round">
<path d="M540,600 C560,590 590,572 625,575 C665,580 688,600 690,640 L690,800 C692,825 705,835 728,833 C760,828 780,790 800,755 L815,725 L828,790 L870,750 C880,700 880,660 885,635 C892,612 915,605 935,615 C958,630 965,680 960,720 C955,790 915,860 860,900 L560,1080 C530,1095 490,1095 465,1075 C440,1055 432,1020 432,980 L430,850 C428,830 415,822 395,825 C370,830 355,850 345,870 L320,835 C290,850 270,905 245,950 C220,1000 205,1025 175,1030 C150,1030 140,1010 140,980 C140,920 160,860 210,780 C260,720 400,670 540,600 Z" vector-effect="non-scaling-stroke"/>
<rect x="495" y="770" width="135" height="95" vector-effect="non-scaling-stroke"/>
</g>
<path d="M326.9,1105.0 L326.9,1111.3 A13.1,7.0 0 0 0 353.1,1111.3 L353.1,1105.0 A13.1,7.0 0 0 0 326.9,1105.0 A13.1,7.0 0 0 0 353.1,1105.0" fill="#fff" stroke="#000" stroke-width="1.9"/>
<ellipse cx="340.3" cy="1106.0" rx="6.287999999999999" ry="3.5" fill="#000" stroke="none"/>
<ellipse cx="340.3" cy="1107.575" rx="2.6409599999999998" ry="1.05" fill="#fff" stroke="none"/>
<circle cx="342.8296" cy="1105.125" r="0.55" fill="#fff"/>
<g transform="translate(300.0,1129.96) scale(0.07468)" fill="none" stroke="#000" stroke-width="1.6" stroke-linejoin="round" stroke-linecap="round">
<path d="M232,555 L850,168 C880,150 930,150 962,175 C975,195 968,215 930,232 C905,245 905,268 935,295 L940,308 C905,300 860,295 820,298 C780,305 770,330 790,370 L835,410 C830,430 815,432 790,432 L710,430 C680,432 660,445 650,470 L712,500 L650,522 C615,535 590,550 572,580 L650,625 C680,640 692,660 688,690 C680,720 650,740 610,742 L515,742 C490,742 470,730 450,718 Z" vector-effect="non-scaling-stroke"/>
<ellipse cx="545" cy="650" rx="45" ry="30" vector-effect="non-scaling-stroke"/>
<path d="M935,295 L1015,400" vector-effect="non-scaling-stroke"/>
<path d="M610,480 L705,492 M600,535 L690,525" vector-effect="non-scaling-stroke"/>
</g>
<path d="M329.6,1214.4 L329.6,1218.4 A10,5.4 0 0 0 349.6,1218.4 L349.6,1214.4 A10,5.4 0 0 0 329.6,1214.4 A10,5.4 0 0 0 349.6,1214.4" fill="#fff" stroke="#000" stroke-width="1.5"/>
<path d="M334.20000000000005,1222.9 L334.20000000000005,1233.4 C335.6,1235.4 343.6,1235.4 345.0,1233.4 L345.0,1222.9" fill="#fff" stroke="#000" stroke-width="1.5"/>
<ellipse cx="339.6" cy="1214.7" rx="5" ry="2.8" fill="none" stroke="#000" stroke-width="1.6"/>
<ellipse cx="339.6" cy="1215.2" rx="2.4" ry="1.2" fill="#000"/>
<g transform="translate(296.31,1216.8) scale(0.07570)" fill="none" stroke="#000" stroke-width="1.6" stroke-linejoin="round" stroke-linecap="round">
<path d="M540,600 C560,590 590,572 625,575 C665,580 688,600 690,640 L690,800 C692,825 705,835 728,833 C760,828 780,790 800,755 L815,725 L828,790 L870,750 C880,700 880,660 885,635 C892,612 915,605 935,615 C958,630 965,680 960,720 C955,790 915,860 860,900 L560,1080 C530,1095 490,1095 465,1075 C440,1055 432,1020 432,980 L430,850 C428,830 415,822 395,825 C370,830 355,850 345,870 L320,835 C290,850 270,905 245,950 C220,1000 205,1025 175,1030 C150,1030 140,1010 140,980 C140,920 160,860 210,780 C260,720 400,670 540,600 Z" vector-effect="non-scaling-stroke"/>
<rect x="495" y="770" width="135" height="95" vector-effect="non-scaling-stroke"/>
</g>
<path d="M328.6,1327.5 L328.6,1331.5 A10,5.4 0 0 0 348.6,1331.5 L348.6,1327.5 A10,5.4 0 0 0 328.6,1327.5 A10,5.4 0 0 0 348.6,1327.5" fill="#fff" stroke="#000" stroke-width="1.5"/>
<path d="M333.20000000000005,1336.0 L333.20000000000005,1346.5 C334.6,1348.5 342.6,1348.5 344.0,1346.5 L344.0,1336.0" fill="#fff" stroke="#000" stroke-width="1.5"/>
<ellipse cx="338.6" cy="1327.8" rx="5" ry="2.8" fill="none" stroke="#000" stroke-width="1.6"/>
<ellipse cx="338.6" cy="1328.3" rx="2.4" ry="1.2" fill="#000"/>
<g transform="translate(294.6,1345.66) scale(0.07468)" fill="none" stroke="#000" stroke-width="1.6" stroke-linejoin="round" stroke-linecap="round">
<path d="M232,555 L850,168 C880,150 930,150 962,175 C975,195 968,215 930,232 C905,245 905,268 935,295 L940,308 C905,300 860,295 820,298 C780,305 770,330 790,370 L835,410 C830,430 815,432 790,432 L710,430 C680,432 660,445 650,470 L712,500 L650,522 C615,535 590,550 572,580 L650,625 C680,640 692,660 688,690 C680,720 650,740 610,742 L515,742 C490,742 470,730 450,718 Z" vector-effect="non-scaling-stroke"/>
<ellipse cx="545" cy="650" rx="45" ry="30" vector-effect="non-scaling-stroke"/>
<path d="M935,295 L1015,400" vector-effect="non-scaling-stroke"/>
<path d="M610,480 L705,492 M600,535 L690,525" vector-effect="non-scaling-stroke"/>
</g>
<path d="M324.1,1422.7 L324.1,1429.1000000000001 A12.9,7.6 0 0 0 349.9,1429.1000000000001 L349.9,1422.7 A12.9,7.6 0 0 0 324.1,1422.7 A12.9,7.6 0 0 0 349.9,1422.7" fill="#fff" stroke="#000" stroke-width="1.9"/>
<ellipse cx="337.3" cy="1423.7" rx="6.192" ry="3.8" fill="#000" stroke="none"/>
<ellipse cx="337.3" cy="1425.41" rx="2.60064" ry="1.14" fill="#fff" stroke="none"/>
<circle cx="339.7864" cy="1422.75" r="0.55" fill="#fff"/>
<g transform="translate(295.01,1400.0) scale(0.07570)" fill="none" stroke="#000" stroke-width="1.6" stroke-linejoin="round" stroke-linecap="round">
<path d="M540,600 C560,590 590,572 625,575 C665,580 688,600 690,640 L690,800 C692,825 705,835 728,833 C760,828 780,790 800,755 L815,725 L828,790 L870,750 C880,700 880,660 885,635 C892,612 915,605 935,615 C958,630 965,680 960,720 C955,790 915,860 860,900 L560,1080 C530,1095 490,1095 465,1075 C440,1055 432,1020 432,980 L430,850 C428,830 415,822 395,825 C370,830 355,850 345,870 L320,835 C290,850 270,905 245,950 C220,1000 205,1025 175,1030 C150,1030 140,1010 140,980 C140,920 160,860 210,780 C260,720 400,670 540,600 Z" vector-effect="non-scaling-stroke"/>
<rect x="495" y="770" width="135" height="95" vector-effect="non-scaling-stroke"/>
</g>
<path d="M324.1,1509.0 L324.1,1515.4 A12.9,7.6 0 0 0 349.9,1515.4 L349.9,1509.0 A12.9,7.6 0 0 0 324.1,1509.0 A12.9,7.6 0 0 0 349.9,1509.0" fill="#fff" stroke="#000" stroke-width="1.9"/>
<ellipse cx="337.3" cy="1510.0" rx="6.192" ry="3.8" fill="#000" stroke="none"/>
<ellipse cx="337.3" cy="1511.71" rx="2.60064" ry="1.14" fill="#fff" stroke="none"/>
<circle cx="339.7864" cy="1509.05" r="0.55" fill="#fff"/>
<path d="M324.35,1553.8 L324.35,1556.3999999999999 A12.65,7.6 0 0 0 349.65,1556.3999999999999 L349.65,1553.8 A12.65,7.6 0 0 0 324.35,1553.8 A12.65,7.6 0 0 0 349.65,1553.8" fill="#fff" stroke="#000" stroke-width="1.9"/>
<ellipse cx="337.3" cy="1554.8" rx="6.072" ry="3.8" fill="#000" stroke="none"/>
<ellipse cx="337.3" cy="1556.51" rx="2.55024" ry="1.14" fill="#fff" stroke="none"/>
<circle cx="339.7324" cy="1553.85" r="0.55" fill="#fff"/>
<path d="M323.4,1596.8 L323.4,1600.2 A13.1,7.5 0 0 0 349.6,1600.2 L349.6,1596.8 A13.1,7.5 0 0 0 323.4,1596.8 A13.1,7.5 0 0 0 349.6,1596.8" fill="#fff" stroke="#000" stroke-width="1.9"/>
<ellipse cx="336.8" cy="1597.8" rx="6.287999999999999" ry="3.75" fill="#000" stroke="none"/>
<ellipse cx="336.8" cy="1599.4875" rx="2.6409599999999998" ry="1.125" fill="#fff" stroke="none"/>
<circle cx="339.3296" cy="1596.8625" r="0.55" fill="#fff"/>
<path d="M324.6,1626.5 L324.6,1645.5 L333.5,1645.5 L335.3,1643.5 L335.3,1653 L344.6,1653 L344.6,1643.5 L346.5,1644.5 L350.6,1644.5 L350.6,1626.5 A13,7.5 0 0 0 324.6,1626.5 Z" fill="#fff" stroke="#000" stroke-width="1.7"/>
<path d="M324.6,1626.5 A13,7.5 0 0 0 350.6,1626.5" fill="none" stroke="#000" stroke-width="1.7"/>
<path d="M325.5,1636.5 A12.1,6.5 0 0 0 349.7,1636.5" fill="none" stroke="#000" stroke-width="1.7"/>
<path d="M325.2,1641 L332,1645" fill="none" stroke="#000" stroke-width="1.5"/>
<ellipse cx="337.4" cy="1626.3" rx="5.7" ry="3.6" fill="none" stroke="#000" stroke-width="2"/>
<line x1="337" y1="1618" x2="337" y2="1626" stroke="#000" stroke-width="1.8"/>
<path d="M334.5,1702.7 L334.5,1682.2 L336.7,1679.7 L338.9,1679.2 L341.09999999999997,1679.7 L343.5,1682.2 L343.5,1702.7" fill="#fff" stroke="#000" stroke-width="1.7"/>
<line x1="334.29999999999995" y1="1683.2" x2="334.29999999999995" y2="1702.2" stroke="#000" stroke-width="2.2"/>
<path d="M335.4,1682.7 L342.7,1682.7" stroke="#000" stroke-width="1.5"/>
<path d="M334.5,1686.4 L337.09999999999997,1686.4 M339.7,1686.4 L343.4,1686.4" stroke="#000" stroke-width="1.3"/>
<path d="M334.5,1690.4 L337.09999999999997,1690.4 M339.7,1690.4 L343.4,1690.4" stroke="#000" stroke-width="1.3"/>
<path d="M334.5,1694.4 L337.09999999999997,1694.4 M339.7,1694.4 L343.4,1694.4" stroke="#000" stroke-width="1.3"/>
<path d="M334.5,1697.6000000000001 L337.09999999999997,1697.6000000000001 M339.7,1697.6000000000001 L343.4,1697.6000000000001" stroke="#000" stroke-width="1.3"/>
<path d="M331.4,1701.7 C329.9,1701.7 329.9,1705.2 331.4,1705.2 L346.4,1705.2 C347.9,1705.2 347.9,1701.7 346.4,1701.7 Z" fill="#fff" stroke="#000" stroke-width="1.7"/>
<path d="M332.59999999999997,1706.0 L332.59999999999997,1710.7 L333.9,1711.7 L343.9,1711.7 L345.2,1710.7 L345.2,1706.0 M336.5,1706.0 L336.5,1711.7 M342.59999999999997,1706.0 L342.59999999999997,1711.7" fill="#fff" stroke="#000" stroke-width="1.7"/>
<path d="M971.2,365 L971.2,400 M1032.3,332 L1032.3,362 M1023.2,382 L1023.2,404 M1023.2,455 L1023.2,505" fill="none" stroke="#000" stroke-width="1.8" stroke-dasharray="9 3 2 3"/>
<g transform="translate(945,290) scale(0.09195)" fill="none" stroke="#000" stroke-width="2.0" stroke-linejoin="round" stroke-linecap="round">
<path d="M130,1255 C140,1200 180,1170 240,1140 L870,815 C930,790 1000,790 1060,820 C1110,845 1140,880 1140,910 L1140,1350 C1120,1400 1060,1450 960,1465 C900,1470 850,1468 800,1460 L300,1385 C200,1360 140,1320 130,1255 Z" vector-effect="non-scaling-stroke"/>
<path d="M125,1262 L125,1425 C150,1460 200,1490 290,1505 L740,1555 L740,1682 C780,1690 830,1698 880,1695 C990,1690 1080,1650 1140,1580 L1140,1350" vector-effect="non-scaling-stroke"/>
<path d="M1145,905 L1145,1130" vector-effect="non-scaling-stroke"/>
<ellipse cx="835" cy="1210" rx="212" ry="122" vector-effect="non-scaling-stroke"/>
<path d="M640,1180 C700,1110 780,1090 840,1090 C920,1090 1000,1120 1040,1180" vector-effect="non-scaling-stroke"/>
<ellipse cx="285" cy="1285" rx="70" ry="42" vector-effect="non-scaling-stroke"/>
<ellipse cx="285" cy="1285" rx="32" ry="16" vector-effect="non-scaling-stroke"/>
<ellipse cx="945" cy="900" rx="70" ry="42" vector-effect="non-scaling-stroke"/>
<ellipse cx="945" cy="905" rx="32" ry="16" vector-effect="non-scaling-stroke"/>
</g>
<path d="M964.024,337.00399999999996 L964.024,332.46 C964.024,328.2 978.3760000000001,328.2 978.3760000000001,332.46 L978.3760000000001,337.00399999999996 Z" fill="#fff" stroke="#000" stroke-width="1.7"/>
<path d="M962.0,337.00399999999996 L980.4000000000001,337.00399999999996 C981.4000000000001,339.56 980.4000000000001,342.4 976.72,342.4 L965.6800000000001,342.4 C962.0,342.4 961.0,339.56 962.0,337.00399999999996 Z" fill="#fff" stroke="#000" stroke-width="1.7"/>
<path d="M968.0425600000001,332.46 L968.0425600000001,337.00399999999996 M974.35744,332.46 L974.35744,337.00399999999996 M968.0425600000001,332.46 L974.35744,332.46 M966.8944,331.03999999999996 L974.788,328.90999999999997" fill="none" stroke="#000" stroke-width="1.4449999999999998"/>
<path d="M966.35,342.4 L966.35,356.59999999999997 L971.2,362.59999999999997 L976.0500000000001,356.59999999999997 L976.0500000000001,342.4" fill="#fff" stroke="#000" stroke-width="1.7"/>
<line x1="966.35" y1="344.6" x2="976.0500000000001" y2="346.2" stroke="#000" stroke-width="1.3"/>
<line x1="966.35" y1="348.0" x2="976.0500000000001" y2="349.6" stroke="#000" stroke-width="1.3"/>
<line x1="966.35" y1="351.4" x2="976.0500000000001" y2="353.0" stroke="#000" stroke-width="1.3"/>
<line x1="966.35" y1="354.8" x2="976.0500000000001" y2="356.4" stroke="#000" stroke-width="1.3"/>
<line x1="971.2" y1="343.4" x2="971.2" y2="360.59999999999997" stroke="#000" stroke-width="0.9"/>
<path d="M1024.7240000000002,302.904 L1024.7240000000002,298.36 C1024.7240000000002,294.1 1039.076,294.1 1039.076,298.36 L1039.076,302.904 Z" fill="#fff" stroke="#000" stroke-width="1.7"/>
<path d="M1022.7,302.904 L1041.1000000000001,302.904 C1042.1000000000001,305.46000000000004 1041.1000000000001,308.3 1037.42,308.3 L1026.38,308.3 C1022.7,308.3 1021.7,305.46000000000004 1022.7,302.904 Z" fill="#fff" stroke="#000" stroke-width="1.7"/>
<path d="M1028.7425600000001,298.36 L1028.7425600000001,302.904 M1035.05744,298.36 L1035.05744,302.904 M1028.7425600000001,298.36 L1035.05744,298.36 M1027.5944000000002,296.94 L1035.488,294.81" fill="none" stroke="#000" stroke-width="1.4449999999999998"/>
<path d="M1027.0500000000002,308.3 L1027.0500000000002,322.5 L1031.9,328.5 L1036.75,322.5 L1036.75,308.3" fill="#fff" stroke="#000" stroke-width="1.7"/>
<line x1="1027.0500000000002" y1="310.5" x2="1036.75" y2="312.1" stroke="#000" stroke-width="1.3"/>
<line x1="1027.0500000000002" y1="313.9" x2="1036.75" y2="315.5" stroke="#000" stroke-width="1.3"/>
<line x1="1027.0500000000002" y1="317.3" x2="1036.75" y2="318.9" stroke="#000" stroke-width="1.3"/>
<line x1="1027.0500000000002" y1="320.7" x2="1036.75" y2="322.3" stroke="#000" stroke-width="1.3"/>
<line x1="1031.9" y1="309.3" x2="1031.9" y2="326.5" stroke="#000" stroke-width="0.9"/>
<g transform="translate(995,500) scale(0.05945)" fill="none" stroke="#000" stroke-width="2.1" stroke-linejoin="round" stroke-linecap="round">
<path d="M235,330 L235,215 L395,215 L395,420 L310,430 L300,330 Z" vector-effect="non-scaling-stroke"/>
<path d="M262,240 L340,240 L340,300 L262,300 Z" vector-effect="non-scaling-stroke"/>
<path d="M485,330 L485,150 C520,135 590,140 630,190 L630,350 L560,380 L485,380 Z" vector-effect="non-scaling-stroke"/>
<path d="M495,195 L600,195 M495,195 L495,330 M560,230 L560,330" vector-effect="non-scaling-stroke"/>
<path d="M270,450 C270,540 360,600 460,600 C560,600 660,540 660,450 M270,450 L270,400 M660,450 L660,300" vector-effect="non-scaling-stroke"/>
<path d="M190,500 L190,720 C195,790 230,860 240,900 C280,980 380,1010 460,1010 C560,1010 640,980 680,900 L720,780 L730,500 C700,470 680,430 660,400" vector-effect="non-scaling-stroke"/>
<path d="M210,545 C250,620 340,680 460,690 C580,690 680,630 710,545" vector-effect="non-scaling-stroke"/>
<path d="M210,620 C260,680 350,700 460,700" vector-effect="non-scaling-stroke"/>
<path d="M220,760 C260,830 360,870 460,880 C570,880 670,830 705,760" vector-effect="non-scaling-stroke"/>
<path d="M245,880 C300,900 380,905 460,905 C550,905 620,890 670,870" vector-effect="non-scaling-stroke"/>
<path d="M640,300 L690,350 L720,460" vector-effect="non-scaling-stroke"/>
</g>
<g transform="translate(995,500) scale(0.05945)" fill="none" stroke="#000" stroke-width="2.1" stroke-linejoin="round" stroke-linecap="round">
<ellipse cx="460" cy="1210" rx="212" ry="128" vector-effect="non-scaling-stroke"/>
<path d="M248,1210 L248,1560 M672,1210 L672,1560" vector-effect="non-scaling-stroke"/>
<path d="M195,1545 L195,1640 C240,1700 350,1740 460,1740 C580,1740 690,1700 725,1640 L725,1545 L672,1530" vector-effect="non-scaling-stroke"/>
<path d="M195,1545 L248,1540" vector-effect="non-scaling-stroke"/>
<path d="M220,1590 C300,1650 380,1670 460,1670 C560,1670 640,1650 700,1590" vector-effect="non-scaling-stroke"/>
<path d="M455,1020 L455,1090 M455,1140 L455,1190 M455,1230 L455,1290" vector-effect="non-scaling-stroke"/>
</g>
<path d="M1020,624.5 L1020,702" fill="none" stroke="#000" stroke-width="1.8" stroke-dasharray="12 4"/>
<path d="M1021,753 L1021,847" fill="none" stroke="#000" stroke-width="1.8" stroke-dasharray="14 4"/>
<path d="M1022,1025 L1022,1066 M1022.5,1078 L1022.5,1112" fill="none" stroke="#000" stroke-width="1.8" stroke-dasharray="7 4"/>
<rect x="1016.3" y="702.3" width="7.4" height="40.5" rx="2.5" fill="#000"/>
<rect x="1017.6" y="705" width="5" height="1.1" fill="#fff"/>
<rect x="1017.6" y="708" width="5" height="1.1" fill="#fff"/>
<rect x="1017.6" y="711" width="5" height="1.1" fill="#fff"/>
<rect x="1017.6" y="714" width="5" height="1.1" fill="#fff"/>
<rect x="1017.6" y="717" width="5" height="1.1" fill="#fff"/>
<rect x="1017.6" y="727" width="2" height="1.1" fill="#fff"/><rect x="1020.8" y="727" width="1.2" height="1.1" fill="#fff"/>
<rect x="1017.6" y="733" width="2" height="1.1" fill="#fff"/><rect x="1020.8" y="733" width="1.2" height="1.1" fill="#fff"/>
<rect x="1017.6" y="736" width="2" height="1.1" fill="#fff"/><rect x="1020.8" y="736" width="1.2" height="1.1" fill="#fff"/>
<rect x="1017.6" y="739" width="5" height="1.6" fill="#fff"/>
<g transform="translate(995,835) scale(0.13514)" fill="none" stroke="#000" stroke-width="1.7" stroke-linejoin="round" stroke-linecap="round">
<path d="M115,130 L135,95 L200,85 L290,120 L290,1250 L280,1300 L195,1320 L115,1280 Z" vector-effect="non-scaling-stroke"/>
<path d="M115,130 L125,165 L200,180 L270,165 L290,120" vector-effect="non-scaling-stroke"/>
<path d="M125,165 L125,1280 M195,180 L195,1320 M270,165 L270,1300" vector-effect="non-scaling-stroke"/>
<ellipse cx="200" cy="138" rx="45" ry="24" vector-effect="non-scaling-stroke"/>
</g>
<line x1="1020.6" y1="860" x2="1020.6" y2="1012" stroke="#000" stroke-width="1.6"/>
<line x1="1032.9" y1="852" x2="1032.9" y2="1004" stroke="#000" stroke-width="2.2"/>
<path d="M1005.8,1067.4 L1005.8,1070 A16.9,8.1 0 0 0 1039.6,1070 L1039.6,1067.4 A16.9,8.1 0 0 0 1005.8,1067.4 A16.9,8.1 0 0 0 1039.6,1067.4" fill="#fff" stroke="#000" stroke-width="1.4"/>
<ellipse cx="1022.7" cy="1068" rx="2.8" ry="1.7" fill="none" stroke="#000" stroke-width="1.4"/>
<line x1="1022.7" y1="1058" x2="1022.7" y2="1066.5" stroke="#000" stroke-width="1.4"/>
<g transform="translate(920,1100) scale(0.11949)" fill="none" stroke="#000" stroke-width="1.3" stroke-linejoin="round" stroke-linecap="round">
<path d="M165,976 L165,515 L235,355 L450,230 C520,190 580,160 640,148 L760,120 L935,70 L1265,235 L1265,620" vector-effect="non-scaling-stroke"/>
<path d="M165,515 L470,700 L760,660 C800,655 840,640 870,628 L1090,500 C1140,470 1165,440 1175,400 L1175,330 L1265,235" vector-effect="non-scaling-stroke"/>
<path d="M470,700 L470,1140 M490,700 L490,1140" vector-effect="non-scaling-stroke"/>
<path d="M760,660 L760,990 M870,628 L870,980" vector-effect="non-scaling-stroke"/>
<path d="M1175,400 L1175,650 M1210,460 L1210,620" vector-effect="non-scaling-stroke"/>
<path d="M1075,680 L1075,836" vector-effect="non-scaling-stroke"/>
<path d="M165,746 C120,740 70,750 60,785 C55,805 62,818 80,828 L470,1056 L1310,716" vector-effect="non-scaling-stroke"/>
<path d="M165,966 L470,1140 L600,1126 L1305,745" vector-effect="non-scaling-stroke"/>
<path d="M760,1090 C900,1040 1100,930 1180,816" vector-effect="non-scaling-stroke"/>
<path d="M500,1086 L520,1006 L720,996 L760,1076 L600,1126 Z" vector-effect="non-scaling-stroke"/>
<ellipse cx="595" cy="1061" rx="38" ry="20" vector-effect="non-scaling-stroke"/>
<path d="M1180,666 L1300,616 L1312,706 L1200,756 Z" vector-effect="non-scaling-stroke"/>
<ellipse cx="1250" cy="681" rx="36" ry="19" vector-effect="non-scaling-stroke"/>
<ellipse cx="115" cy="786" rx="30" ry="17" vector-effect="non-scaling-stroke"/>
<ellipse cx="855" cy="195" rx="135" ry="75" vector-effect="non-scaling-stroke"/>
<path d="M720,195 L720,300 C730,350 790,380 855,380 C920,380 980,350 990,300 L990,195" vector-effect="non-scaling-stroke"/>
<ellipse cx="855" cy="198" rx="100" ry="55" vector-effect="non-scaling-stroke"/>
<ellipse cx="855" cy="200" rx="60" ry="38" vector-effect="non-scaling-stroke"/>
<ellipse cx="580" cy="335" rx="75" ry="40" vector-effect="non-scaling-stroke"/>
<path d="M505,335 L505,385 C515,415 550,430 580,430 C615,430 645,415 655,385 L655,335" vector-effect="non-scaling-stroke"/>
<path d="M860,10 L860,60 M860,90 L860,230" vector-effect="non-scaling-stroke"/>
</g>
<g transform="translate(920,1100) scale(0.11949)" fill="none" stroke="#000" stroke-width="2.6" stroke-linejoin="round" stroke-linecap="round">
<path d="M160,880 L160,976 M1270,590 L1270,640" vector-effect="non-scaling-stroke"/>
</g>
<g transform="translate(900,1255) scale(0.15309)" fill="none" stroke="#000" stroke-width="1.3" stroke-linejoin="round" stroke-linecap="round">
<path d="M825,45 L850,45 L1275,295 L1280,600 L990,765 C960,775 940,770 920,755 L870,718 C850,705 830,705 810,712 L640,780" vector-effect="non-scaling-stroke"/>
<path d="M825,45 L815,250 M840,62 L1265,305 M1275,295 L1265,305 M1265,305 L1268,590" vector-effect="non-scaling-stroke"/>
<path d="M1130,200 L1200,155 L1228,170 L1225,255" vector-effect="non-scaling-stroke"/>
<ellipse cx="1190" cy="210" rx="14" ry="22" transform="rotate(30 1190 210)" vector-effect="non-scaling-stroke"/>
<path d="M320,625 L700,400 M800,368 L855,350" vector-effect="non-scaling-stroke"/>
<path d="M860,350 L1095,485 M855,370 L1090,505" vector-effect="non-scaling-stroke"/>
<path d="M70,490 L320,625 L345,660 M75,505 L320,640 M70,490 L55,780 L230,880" vector-effect="non-scaling-stroke"/>
<path d="M345,660 L520,745 L520,1045 L350,960 M340,960 L340,670 M360,670 L360,965" vector-effect="non-scaling-stroke"/>
<path d="M235,720 C240,690 275,670 330,665 L340,960 L265,1002 C245,1000 235,990 235,975 Z" vector-effect="non-scaling-stroke"/>
<ellipse cx="285" cy="740" rx="10" ry="16" transform="rotate(20 285 740)" vector-effect="non-scaling-stroke"/>
<ellipse cx="285" cy="835" rx="10" ry="16" transform="rotate(20 285 835)" vector-effect="non-scaling-stroke"/>
<ellipse cx="285" cy="940" rx="10" ry="16" transform="rotate(20 285 940)" vector-effect="non-scaling-stroke"/>
<path d="M520,860 L590,830 M525,1010 L745,880 L745,870 L655,815 M535,1035 L745,905" vector-effect="non-scaling-stroke"/>
<ellipse cx="760" cy="262" rx="40" ry="24" vector-effect="non-scaling-stroke"/>
<ellipse cx="760" cy="262" rx="18" ry="10" vector-effect="non-scaling-stroke"/>
<path d="M720,262 L715,415 C730,440 790,440 805,420 L800,262" vector-effect="non-scaling-stroke"/>
<path d="M800,270 L855,235 L865,355 M855,235 L850,370" vector-effect="non-scaling-stroke"/>
<ellipse cx="1135" cy="482" rx="38" ry="22" vector-effect="non-scaling-stroke"/>
<ellipse cx="1135" cy="482" rx="17" ry="9" vector-effect="non-scaling-stroke"/>
<path d="M1097,482 L1093,635 C1105,660 1165,660 1178,640 L1173,482" vector-effect="non-scaling-stroke"/>
<path d="M1178,490 L1240,455 L1250,595 L1180,630 M1240,455 L1235,590" vector-effect="non-scaling-stroke"/>
<ellipse cx="615" cy="782" rx="38" ry="22" vector-effect="non-scaling-stroke"/>
<ellipse cx="615" cy="782" rx="17" ry="9" vector-effect="non-scaling-stroke"/>
<path d="M577,782 L580,940 C595,960 645,960 660,945 L653,782" vector-effect="non-scaling-stroke"/>
<ellipse cx="240" cy="560" rx="35" ry="20" vector-effect="non-scaling-stroke"/>
<ellipse cx="240" cy="560" rx="15" ry="8" vector-effect="non-scaling-stroke"/>
<path d="M980,530 L1050,505 L1090,585 M990,540 L1060,520" vector-effect="non-scaling-stroke"/>
</g>
<path d="M937.8,1407 L937.8,1455 M996.6,1411 L996.6,1452 M1019.9,1376 L1019.9,1418 M1076.3,1365 L1076.3,1407" fill="none" stroke="#000" stroke-width="2" stroke-dasharray="12 3"/>
<path d="M934.132,1481.295 L934.132,1461.41 L936.266,1458.985 L938.4,1458.5 L940.534,1458.985 L942.862,1461.41 L942.862,1481.295" fill="#fff" stroke="#000" stroke-width="1.7"/>
<line x1="933.938" y1="1462.38" x2="933.938" y2="1480.81" stroke="#000" stroke-width="2.2"/>
<path d="M935.005,1461.895 L942.086,1461.895" stroke="#000" stroke-width="1.5"/>
<path d="M934.132,1465.484 L936.654,1465.484 M939.1759999999999,1465.484 L942.765,1465.484" stroke="#000" stroke-width="1.3"/>
<path d="M934.132,1469.364 L936.654,1469.364 M939.1759999999999,1469.364 L942.765,1469.364" stroke="#000" stroke-width="1.3"/>
<path d="M934.132,1473.244 L936.654,1473.244 M939.1759999999999,1473.244 L942.765,1473.244" stroke="#000" stroke-width="1.3"/>
<path d="M934.132,1476.348 L936.654,1476.348 M939.1759999999999,1476.348 L942.765,1476.348" stroke="#000" stroke-width="1.3"/>
<path d="M931.125,1480.325 C929.67,1480.325 929.67,1483.72 931.125,1483.72 L945.675,1483.72 C947.13,1483.72 947.13,1480.325 945.675,1480.325 Z" fill="#fff" stroke="#000" stroke-width="1.7"/>
<path d="M932.289,1484.496 L932.289,1489.055 L933.55,1490.025 L943.25,1490.025 L944.511,1489.055 L944.511,1484.496 M936.072,1484.496 L936.072,1490.025 M941.989,1484.496 L941.989,1490.025" fill="#fff" stroke="#000" stroke-width="1.7"/>
<path d="M993.632,1475.895 L993.632,1456.01 L995.766,1453.5849999999998 L997.9,1453.1 L1000.034,1453.5849999999998 L1002.362,1456.01 L1002.362,1475.895" fill="#fff" stroke="#000" stroke-width="1.7"/>
<line x1="993.438" y1="1456.98" x2="993.438" y2="1475.4099999999999" stroke="#000" stroke-width="2.2"/>
<path d="M994.505,1456.495 L1001.586,1456.495" stroke="#000" stroke-width="1.5"/>
<path d="M993.632,1460.0839999999998 L996.154,1460.0839999999998 M998.6759999999999,1460.0839999999998 L1002.265,1460.0839999999998" stroke="#000" stroke-width="1.3"/>
<path d="M993.632,1463.964 L996.154,1463.964 M998.6759999999999,1463.964 L1002.265,1463.964" stroke="#000" stroke-width="1.3"/>
<path d="M993.632,1467.8439999999998 L996.154,1467.8439999999998 M998.6759999999999,1467.8439999999998 L1002.265,1467.8439999999998" stroke="#000" stroke-width="1.3"/>
<path d="M993.632,1470.9479999999999 L996.154,1470.9479999999999 M998.6759999999999,1470.9479999999999 L1002.265,1470.9479999999999" stroke="#000" stroke-width="1.3"/>
<path d="M990.625,1474.925 C989.17,1474.925 989.17,1478.32 990.625,1478.32 L1005.175,1478.32 C1006.63,1478.32 1006.63,1474.925 1005.175,1474.925 Z" fill="#fff" stroke="#000" stroke-width="1.7"/>
<path d="M991.789,1479.096 L991.789,1483.655 L993.05,1484.625 L1002.75,1484.625 L1004.011,1483.655 L1004.011,1479.096 M995.572,1479.096 L995.572,1484.625 M1001.489,1479.096 L1001.489,1484.625" fill="#fff" stroke="#000" stroke-width="1.7"/>
<path d="M1016.732,1442.295 L1016.732,1422.41 L1018.866,1419.985 L1021.0,1419.5 L1023.134,1419.985 L1025.462,1422.41 L1025.462,1442.295" fill="#fff" stroke="#000" stroke-width="1.7"/>
<line x1="1016.538" y1="1423.38" x2="1016.538" y2="1441.81" stroke="#000" stroke-width="2.2"/>
<path d="M1017.605,1422.895 L1024.686,1422.895" stroke="#000" stroke-width="1.5"/>
<path d="M1016.732,1426.484 L1019.254,1426.484 M1021.776,1426.484 L1025.365,1426.484" stroke="#000" stroke-width="1.3"/>
<path d="M1016.732,1430.364 L1019.254,1430.364 M1021.776,1430.364 L1025.365,1430.364" stroke="#000" stroke-width="1.3"/>
<path d="M1016.732,1434.244 L1019.254,1434.244 M1021.776,1434.244 L1025.365,1434.244" stroke="#000" stroke-width="1.3"/>
<path d="M1016.732,1437.348 L1019.254,1437.348 M1021.776,1437.348 L1025.365,1437.348" stroke="#000" stroke-width="1.3"/>
<path d="M1013.725,1441.325 C1012.27,1441.325 1012.27,1444.72 1013.725,1444.72 L1028.275,1444.72 C1029.73,1444.72 1029.73,1441.325 1028.275,1441.325 Z" fill="#fff" stroke="#000" stroke-width="1.7"/>
<path d="M1014.889,1445.496 L1014.889,1450.055 L1016.15,1451.025 L1025.85,1451.025 L1027.111,1450.055 L1027.111,1445.496 M1018.672,1445.496 L1018.672,1451.025 M1024.589,1445.496 L1024.589,1451.025" fill="#fff" stroke="#000" stroke-width="1.7"/>
<path d="M1072.532,1432.1950000000002 L1072.532,1412.3100000000002 L1074.666,1409.885 L1076.8,1409.4 L1078.934,1409.885 L1081.262,1412.3100000000002 L1081.262,1432.1950000000002" fill="#fff" stroke="#000" stroke-width="1.7"/>
<line x1="1072.338" y1="1413.2800000000002" x2="1072.338" y2="1431.71" stroke="#000" stroke-width="2.2"/>
<path d="M1073.405,1412.795 L1080.4859999999999,1412.795" stroke="#000" stroke-width="1.5"/>
<path d="M1072.532,1416.384 L1075.0539999999999,1416.384 M1077.576,1416.384 L1081.165,1416.384" stroke="#000" stroke-width="1.3"/>
<path d="M1072.532,1420.2640000000001 L1075.0539999999999,1420.2640000000001 M1077.576,1420.2640000000001 L1081.165,1420.2640000000001" stroke="#000" stroke-width="1.3"/>
<path d="M1072.532,1424.144 L1075.0539999999999,1424.144 M1077.576,1424.144 L1081.165,1424.144" stroke="#000" stroke-width="1.3"/>
<path d="M1072.532,1427.248 L1075.0539999999999,1427.248 M1077.576,1427.248 L1081.165,1427.248" stroke="#000" stroke-width="1.3"/>
<path d="M1069.5249999999999,1431.2250000000001 C1068.07,1431.2250000000001 1068.07,1434.6200000000001 1069.5249999999999,1434.6200000000001 L1084.075,1434.6200000000001 C1085.53,1434.6200000000001 1085.53,1431.2250000000001 1084.075,1431.2250000000001 Z" fill="#fff" stroke="#000" stroke-width="1.7"/>
<path d="M1070.6889999999999,1435.3960000000002 L1070.6889999999999,1439.9550000000002 L1071.95,1440.9250000000002 L1081.6499999999999,1440.9250000000002 L1082.911,1439.9550000000002 L1082.911,1435.3960000000002 M1074.472,1435.3960000000002 L1074.472,1440.9250000000002 M1080.389,1435.3960000000002 L1080.389,1440.9250000000002" fill="#fff" stroke="#000" stroke-width="1.7"/>
<g transform="translate(195,1200) scale(0.08929)" fill="none" stroke="#000" stroke-width="2.0" stroke-linejoin="round" stroke-linecap="round">
<path d="M340,130 C340,100 360,92 385,92 C410,92 430,100 430,130 L430,712 L340,712 Z" vector-effect="non-scaling-stroke"/>
<path d="M375,170 L375,400 M378,460 L378,670 M340,170 L430,170" vector-effect="non-scaling-stroke"/>
</g>
<rect x="228.2" y="1215" width="2" height="21" fill="#000"/>
<g transform="translate(195,1200) scale(0.08929)" fill="none" stroke="#000" stroke-width="2.2" stroke-linejoin="round" stroke-linecap="round">
<path d="M105,1055 C105,1030 120,1012 145,1012 L215,1015 L360,922 L410,855 L520,855 L700,965 L700,1580 L445,1718 L440,1760 L300,1785 L105,1670 Z" vector-effect="non-scaling-stroke"/>
<path d="M130,1020 L355,1150 L300,1188 L130,1090 Z" vector-effect="non-scaling-stroke"/>
<path d="M300,1190 L300,1782 M130,1090 L130,1680" vector-effect="non-scaling-stroke"/>
<path d="M215,1015 L420,1140 L610,1030 L700,965 M360,922 L600,1050 M410,880 L680,990 M410,855 L370,920" vector-effect="non-scaling-stroke"/>
<ellipse cx="385" cy="1025" rx="62" ry="42" vector-effect="non-scaling-stroke"/>
<path d="M410,1210 C410,1180 440,1160 480,1140 L610,1100 L612,1200 L410,1270 Z" vector-effect="non-scaling-stroke"/>
<path d="M410,1400 C410,1370 440,1350 480,1330 L610,1290 L612,1390 L410,1460 Z" vector-effect="non-scaling-stroke"/>
<path d="M410,1590 C410,1560 440,1540 480,1520 L610,1480 L612,1580 L410,1650 Z" vector-effect="non-scaling-stroke"/>
<path d="M410,1330 L612,1250 M410,1355 L612,1280 M410,1520 L612,1440 M410,1545 L612,1470" vector-effect="non-scaling-stroke"/>
<path d="M440,1720 L300,1782" vector-effect="non-scaling-stroke"/>
</g>
<path d="M597.5,1172.3 C606.9,1179.3 635.2,1199.2 653.6,1214.1 C672.0,1229.0 695.4,1249.8 708.1,1261.8 C720.8,1273.8 721.4,1275.4 730,1285.8 C738.6,1296.2 749.1,1310.1 759.5,1324 C769.9,1337.9 780.7,1356.4 792.3,1369 C803.9,1381.6 822.8,1394.4 828.9,1399.5" fill="none" stroke="#000" stroke-width="1.8"/>
<path d="M596.3,1177 C605.8,1185.2 635.6,1210.5 653.6,1226 C671.6,1241.5 689.8,1255.3 704.5,1270.2 C719.2,1285.1 732.4,1302.8 741.6,1315.6 C750.8,1328.3 752.5,1336.8 759.5,1346.7 C766.5,1356.7 772.3,1365.5 783.9,1375.3 C795.5,1385.1 821.4,1400.5 828.9,1405.6" fill="none" stroke="#000" stroke-width="1.8"/>
<g transform="translate(570,1140) scale(0.11949)" fill="none" stroke="#000" stroke-width="1.7" stroke-linejoin="round" stroke-linecap="round">
<path d="M55,135 L95,120 L195,148 L195,190 L232,195 L232,300 L150,335 L105,350 L65,325 L65,185 L55,175 Z" vector-effect="non-scaling-stroke"/>
<path d="M65,185 L150,205 L150,335 M150,205 L195,190 M95,150 L195,175 M110,200 L110,340 M175,240 L210,240 L210,290 L180,300" vector-effect="non-scaling-stroke"/>
</g>
<g transform="translate(740,1300) scale(0.10456)" fill="none" stroke="#000" stroke-width="1.7" stroke-linejoin="round" stroke-linecap="round">
<path d="M850,940 C860,915 900,905 940,925 L1000,955 L1000,985 L1100,1040 L1100,1150 L1060,1170 L1010,1190 L870,1110 L870,1070 L850,1050 Z" vector-effect="non-scaling-stroke"/>
<path d="M860,950 L940,990 L940,1070 L860,1030 M940,990 L1000,960 M940,1070 L1100,1150 M960,1000 L1090,1060 M960,1040 L1090,1100 M960,1080 L1090,1140 M880,1085 L1010,1160" vector-effect="non-scaling-stroke"/>
</g>
</svg>
</body></html>
